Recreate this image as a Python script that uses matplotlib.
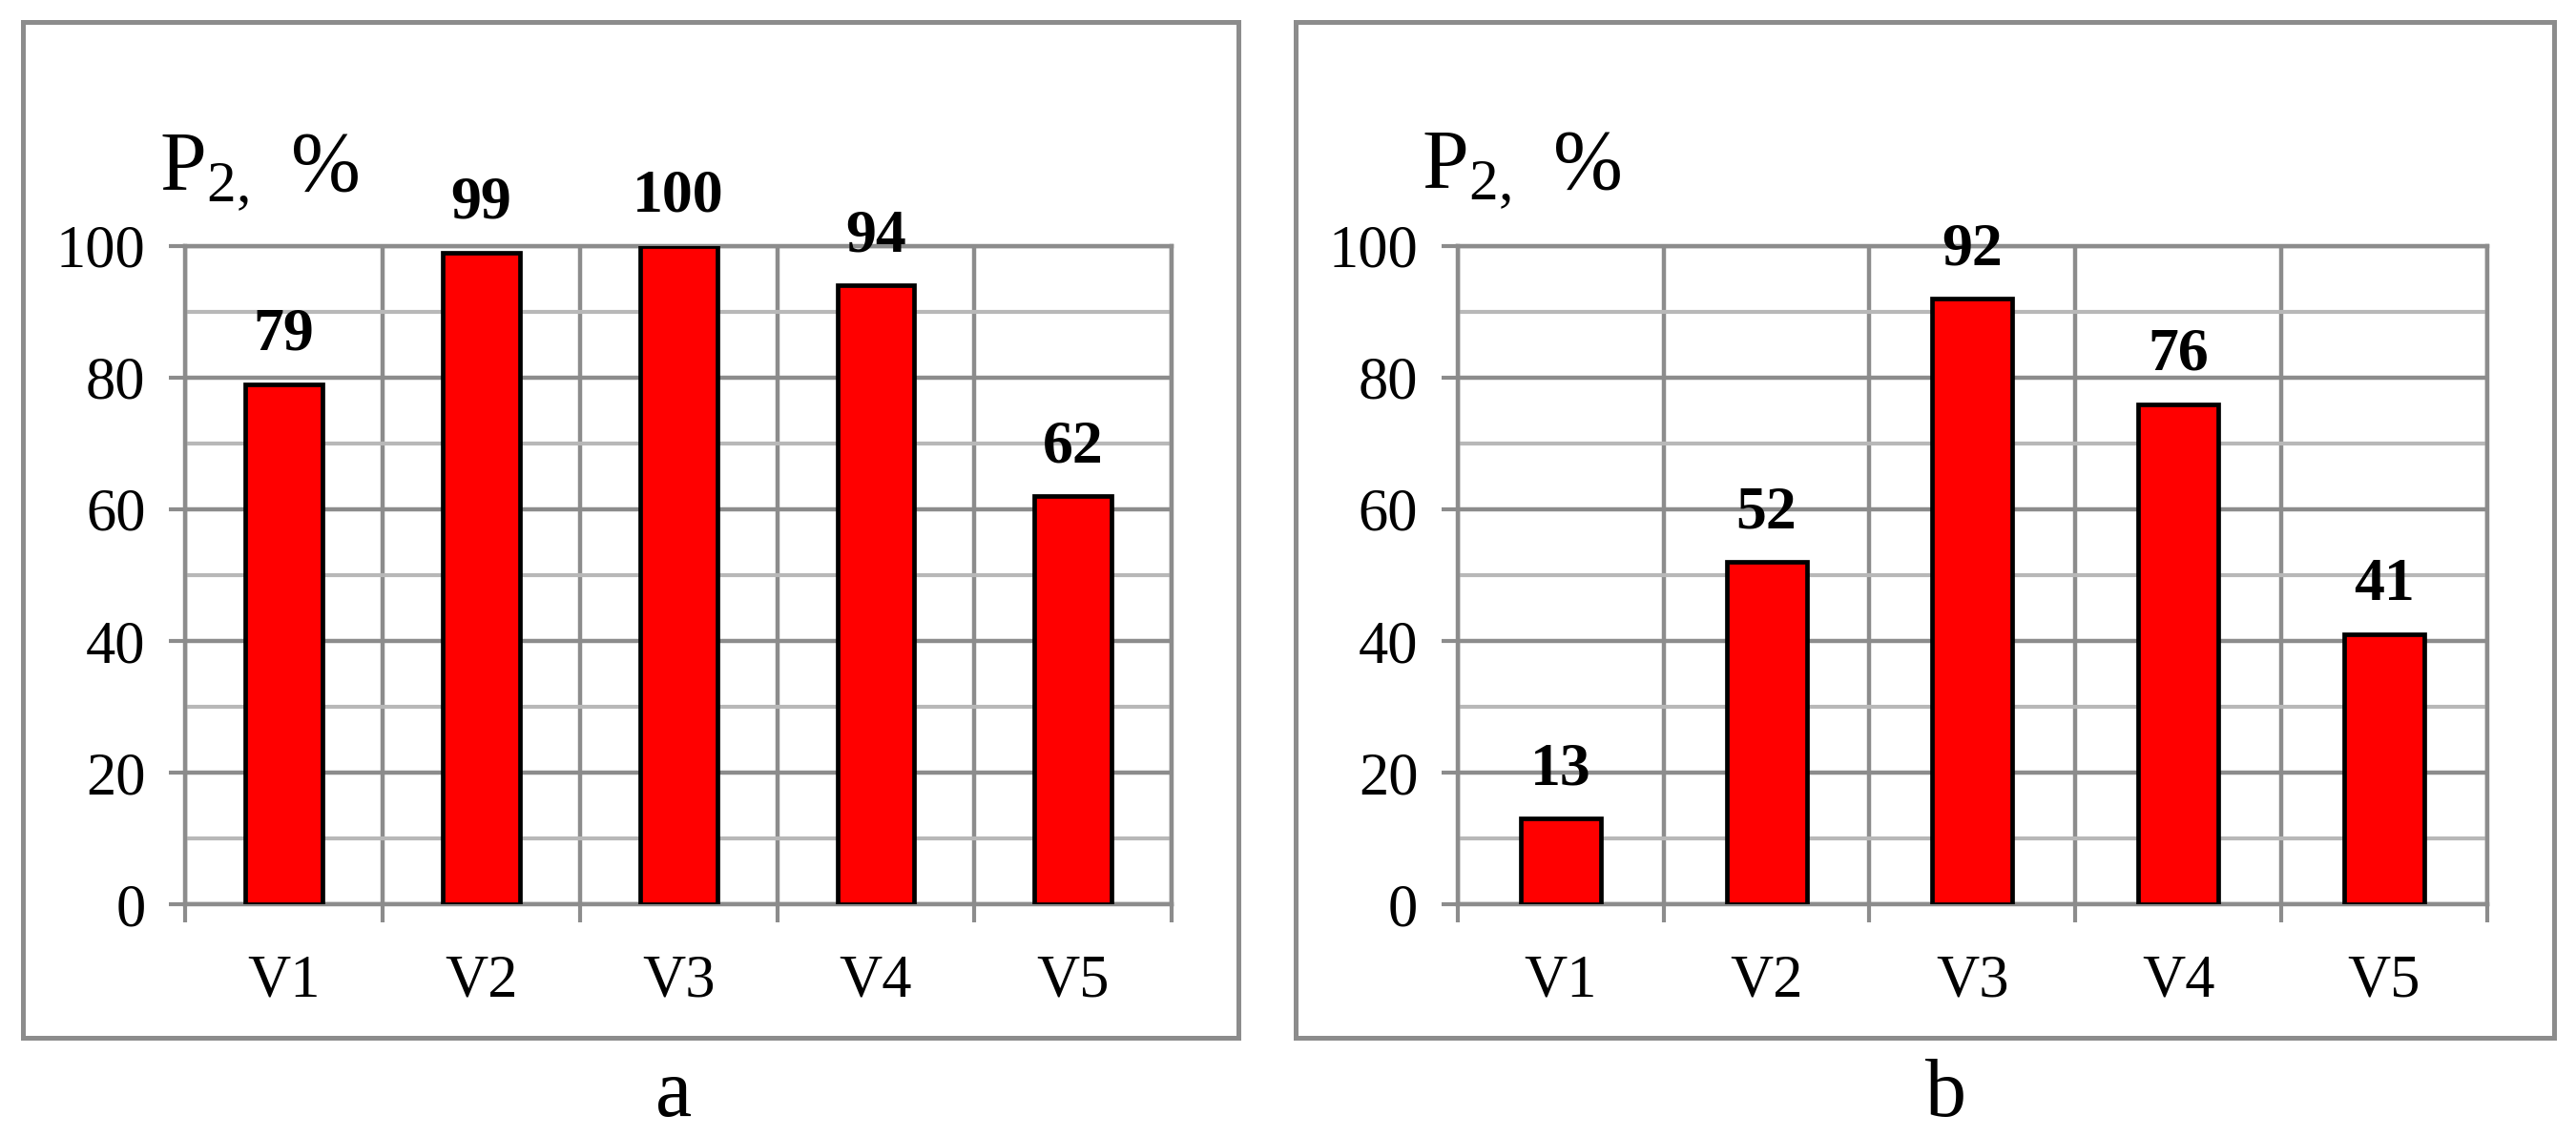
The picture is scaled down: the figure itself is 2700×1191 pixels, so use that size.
import matplotlib.pyplot as plt
from matplotlib.patches import Rectangle

plt.rcParams['font.family'] = ['Liberation Serif', 'DejaVu Serif']
plt.rcParams['mathtext.fontset'] = 'custom'
plt.rcParams['mathtext.rm'] = 'Liberation Serif'

# data
variants = ['V1', 'V2', 'V3', 'V4', 'V5']
p2_a = [79, 99, 100, 94, 62]
p2_b = [13, 52, 92, 76, 41]
panel_names = ['a', 'b']

grid_dark = '#8c8c8c'
grid_light = '#b8b8b8'

fig = plt.figure(figsize=(27, 11.91), dpi=100)

# outer frames around each panel
for x0, w in [(0.0089, 0.4719), (0.5030, 0.4885)]:
    fig.patches.append(Rectangle((x0, 0.0865), w, 0.8942, transform=fig.transFigure,
                                 fill=False, edgecolor=grid_dark, linewidth=3.6))

ax1 = fig.add_axes([0.0719, 0.2040, 0.3830, 0.5794])
ax2 = fig.add_axes([0.5659, 0.2040, 0.3996, 0.5794])


def draw_panel(ax, values):
    x = range(len(variants))
    bars = ax.bar(x, values, width=0.39, color='#ff0000', edgecolor='black',
                  linewidth=3.4, zorder=3)
    for b, v in zip(bars, values):
        ax.annotate(str(v), (b.get_x() + b.get_width() / 2, v), xytext=(0, 26),
                    textcoords='offset points', ha='center', va='baseline',
                    fontsize=46, fontweight='bold')
    ax.set_xlim(-0.5, 4.5)
    ax.set_ylim(0, 100)
    ax.set_xticks(list(x))
    ax.set_xticklabels(variants)
    ax.set_xticks([i - 0.5 for i in range(6)], minor=True)
    ax.set_yticks([0, 20, 40, 60, 80, 100])
    ax.set_yticks([10, 30, 50, 70, 90], minor=True)
    ax.tick_params(axis='x', which='major', length=0, pad=38, labelsize=45)
    ax.tick_params(axis='x', which='minor', length=14, width=3, color=grid_dark)
    ax.tick_params(axis='y', which='major', length=12, width=3, color=grid_dark,
                   pad=18, labelsize=45)
    ax.tick_params(axis='y', which='minor', length=0)
    ax.set_axisbelow(True)
    ax.xaxis.grid(True, which='minor', color=grid_dark, linewidth=3.2)
    ax.yaxis.grid(True, which='major', color=grid_dark, linewidth=3.2)
    ax.yaxis.grid(True, which='minor', color=grid_light, linewidth=3.0)
    for s in ax.spines.values():
        s.set_color(grid_dark)
        s.set_linewidth(3.2)


draw_panel(ax1, p2_a)
draw_panel(ax2, p2_b)

# axis titles
fig.text(167 / 2700, 1 - 200 / 1191, r'$\mathrm{P_{2,}\ \%}$', fontsize=63, va='baseline')
fig.text(1490 / 2700, 1 - 198 / 1191, r'$\mathrm{P_{2,}\ \%}$', fontsize=63, va='baseline')

# panel captions
fig.text(706 / 2700, 1 - 1170 / 1191, panel_names[0], fontsize=62, ha='center', va='baseline')
fig.text(2040 / 2700, 1 - 1170 / 1191, panel_names[1], fontsize=62, ha='center', va='baseline')

fig.savefig('out.png', dpi=100)
